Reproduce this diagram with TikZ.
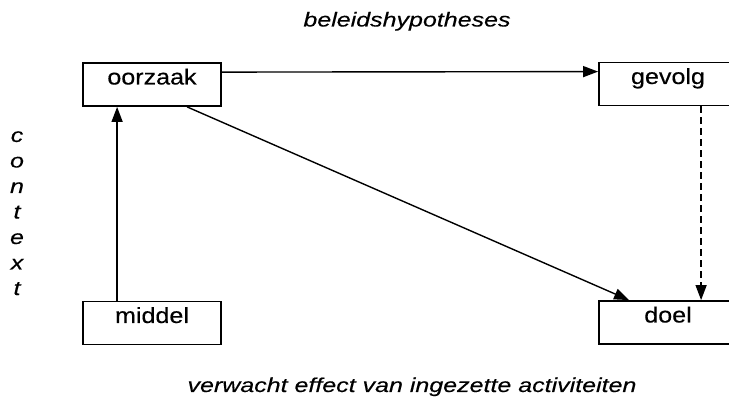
\documentclass[tikz,border=0pt]{standalone}
\usepackage{fontspec}
\setmainfont{Liberation Sans}[FakeStretch=1.25,FakeBold=0.3]
\newfontfamily\boxfont{Liberation Sans}[FakeStretch=1.14,FakeBold=0.3]
\usetikzlibrary{arrows.meta}
\begin{document}
\begin{tikzpicture}[x=1pt,y=-1pt,
  box/.style={draw,line width=1.8pt,rectangle,inner sep=0pt,
    font=\boxfont\fontsize{22}{26}\selectfont,
    minimum width=138pt,text height=21.5pt,text depth=21.5pt,align=center},
  conn/.style={line width=1.4pt,-{Triangle[length=15pt,width=11pt]}},
  note/.style={font=\fontsize{20}{24}\selectfont\itshape,anchor=base}]
  \useasboundingbox (0,0) rectangle (729,403);
  \clip (0,0) rectangle (729,403);
  % boxes
  \node[box] (oorzaak) at (152,84.5) {oorzaak};
  \node[box] (gevolg) at (668,84) {gevolg};
  \node[box] (middel) at (152,323) {middel};
  \node[box] (doel) at (668,322.5) {doel};
  % connectors
  \draw[conn] ([yshift=-10pt]oorzaak.north east) -- ([yshift=-10pt]gevolg.north west);
  \draw[conn] ([xshift=35pt]middel.north west) -- ([xshift=35pt]oorzaak.south west);
  \draw[conn] ([xshift=105pt]oorzaak.south west) -- ([xshift=31pt]doel.north west);
  \draw[conn,dashed,dash pattern=on 7pt off 4pt] ([xshift=103pt]gevolg.south west) -- ([xshift=103pt]doel.north west);
  % captions
  \node[note] (titel) at (407,26.5) {beleidshypotheses};
  \node[note] (effect) at (412,392) {verwacht effect van ingezette activiteiten};
  \foreach \ch [count=\i from 0] in {c,o,n,t,e,x,t}
    \node[note] (ctx\i) at (17,142+25.5*\i) {\ch};
\end{tikzpicture}
\end{document}
